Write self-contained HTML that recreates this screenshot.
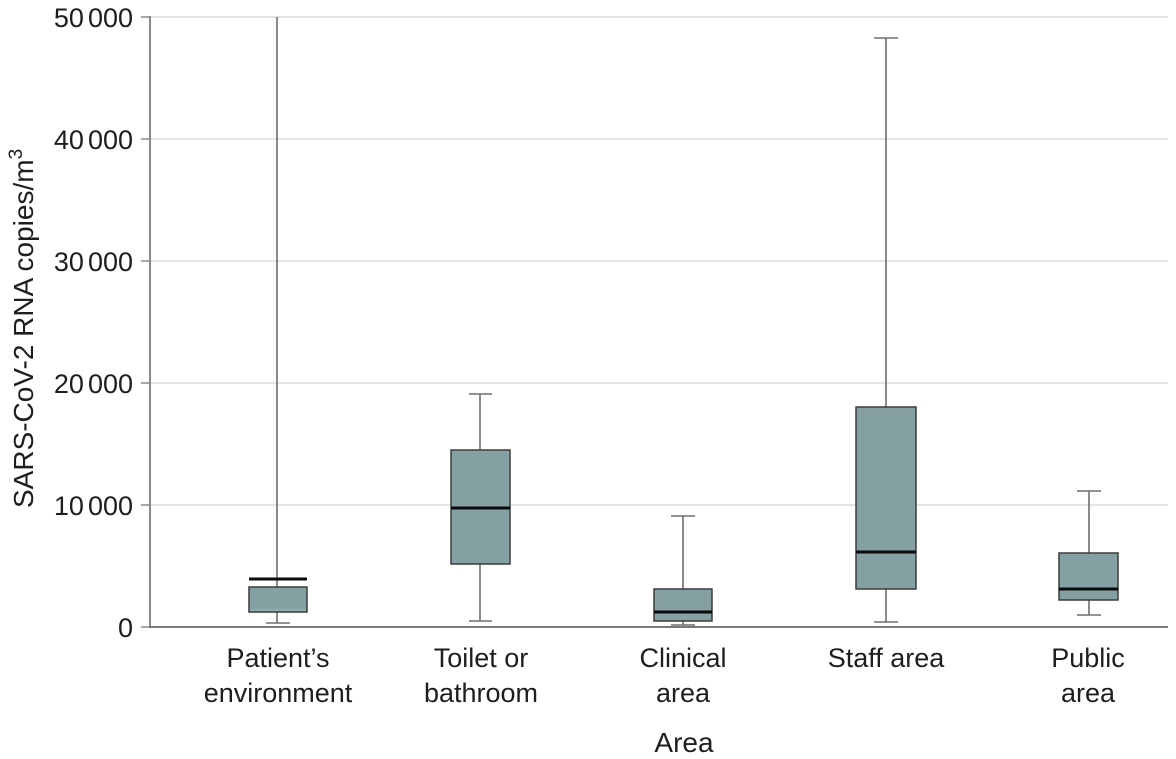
<!DOCTYPE html>
<html>
<head>
<meta charset="utf-8">
<style>
  html, body { margin:0; padding:0; background:#ffffff; }
  svg { display:block; }
  text { font-family: "Liberation Sans", sans-serif; fill:#1e1e1e; }
</style>
</head>
<body>
<svg width="1176" height="759" viewBox="0 0 1176 759" xmlns="http://www.w3.org/2000/svg">
  <rect width="1176" height="759" fill="#ffffff"/>
  <!-- gridlines -->
  <g stroke="#dcdcdc" stroke-width="1.5">
    <line x1="150" y1="17" x2="1168" y2="17"/>
    <line x1="150" y1="139" x2="1168" y2="139"/>
    <line x1="150" y1="261" x2="1168" y2="261"/>
    <line x1="150" y1="383" x2="1168" y2="383"/>
    <line x1="150" y1="505" x2="1168" y2="505"/>
  </g>
  <!-- ticks -->
  <g stroke="#8a8a8a" stroke-width="1.5">
    <line x1="141" y1="17" x2="150" y2="17"/>
    <line x1="141" y1="139" x2="150" y2="139"/>
    <line x1="141" y1="261" x2="150" y2="261"/>
    <line x1="141" y1="383" x2="150" y2="383"/>
    <line x1="141" y1="505" x2="150" y2="505"/>
    <line x1="141" y1="627" x2="150" y2="627"/>
  </g>
  <!-- axes -->
  <line x1="150" y1="16" x2="150" y2="628" stroke="#8a8a8a" stroke-width="2"/>
  <line x1="149" y1="627" x2="1168" y2="627" stroke="#7a7a7a" stroke-width="2"/>

  <!-- tick labels -->
  <g font-size="27" text-anchor="end">
    <text x="133" y="27">50<tspan dx="4">000</tspan></text>
    <text x="133" y="149">40<tspan dx="4">000</tspan></text>
    <text x="133" y="271">30<tspan dx="4">000</tspan></text>
    <text x="133" y="393">20<tspan dx="4">000</tspan></text>
    <text x="133" y="515">10<tspan dx="4">000</tspan></text>
    <text x="133" y="637">0</text>
  </g>

  <!-- y title -->
  <text transform="translate(33,508) rotate(-90)" font-size="28" text-anchor="start">SARS-CoV-2 RNA copies/m<tspan font-size="19" dy="-11">3</tspan></text>

  <!-- whiskers -->
  <g stroke="#6e6e6e" stroke-width="1.6" fill="none">
    <!-- Patient -->
    <line x1="277" y1="17" x2="277" y2="587"/>
    <line x1="277" y1="612" x2="277" y2="623"/>
    <line x1="266" y1="623" x2="290" y2="623"/>
    <!-- Toilet -->
    <line x1="480" y1="394" x2="480" y2="450"/>
    <line x1="480" y1="564" x2="480" y2="621"/>
    <line x1="469" y1="394" x2="492" y2="394"/>
    <line x1="469" y1="621" x2="492" y2="621"/>
    <!-- Clinical -->
    <line x1="683" y1="516" x2="683" y2="589"/>
    <line x1="683" y1="621" x2="683" y2="625"/>
    <line x1="671" y1="516" x2="695" y2="516"/>
    <line x1="671" y1="625" x2="695" y2="625"/>
    <!-- Staff -->
    <line x1="886" y1="38" x2="886" y2="407"/>
    <line x1="886" y1="589" x2="886" y2="622"/>
    <line x1="874" y1="38" x2="898" y2="38"/>
    <line x1="874" y1="622" x2="898" y2="622"/>
    <!-- Public -->
    <line x1="1089" y1="491" x2="1089" y2="553"/>
    <line x1="1089" y1="600" x2="1089" y2="615"/>
    <line x1="1077" y1="491" x2="1101" y2="491"/>
    <line x1="1077" y1="615" x2="1101" y2="615"/>
  </g>

  <!-- boxes -->
  <g fill="#85a0a3" stroke="#3c3c3c" stroke-width="1.5">
    <rect x="249" y="587" width="58" height="25"/>
    <rect x="451" y="450" width="59" height="114"/>
    <rect x="654" y="589" width="58" height="32"/>
    <rect x="856" y="407" width="60" height="182"/>
    <rect x="1059" y="553" width="59" height="47"/>
  </g>

  <!-- medians -->
  <g stroke="#0a0a0a" stroke-width="3">
    <line x1="249" y1="579" x2="307" y2="579"/>
    <line x1="451" y1="508" x2="510" y2="508"/>
    <line x1="654" y1="612" x2="712" y2="612"/>
    <line x1="856" y1="552" x2="916" y2="552"/>
    <line x1="1059" y1="589" x2="1118" y2="589"/>
  </g>
  <line x1="250" y1="610" x2="306" y2="610" stroke="#9fb6b8" stroke-width="1"/>

  <!-- category labels -->
  <g font-size="27" text-anchor="middle">
    <text x="278" y="667">Patient’s</text>
    <text x="278" y="702">environment</text>
    <text x="481" y="667">Toilet or</text>
    <text x="481" y="702">bathroom</text>
    <text x="683" y="667">Clinical</text>
    <text x="683" y="702">area</text>
    <text x="886" y="667">Staff area</text>
    <text x="1088" y="667">Public</text>
    <text x="1088" y="702">area</text>
  </g>

  <!-- x title -->
  <text x="684" y="752" font-size="28" text-anchor="middle">Area</text>
</svg>
</body>
</html>
